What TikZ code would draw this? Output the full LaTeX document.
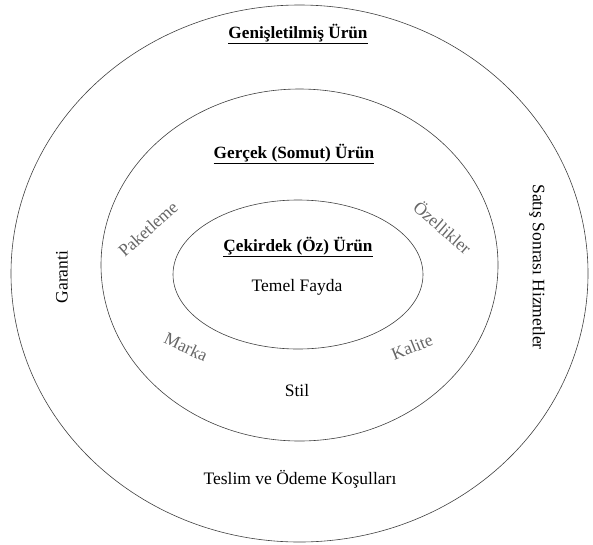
\documentclass[tikz,border=0pt]{standalone}
\usepackage{fontspec}
\setmainfont{Liberation Serif}
\usetikzlibrary{shapes.geometric}

\begin{document}
\begin{tikzpicture}
	[
		x = 1pt, y = -1pt,
		ring/.style = {draw=black!75, line width=0.6pt, ellipse, inner sep=0pt},
		title/.style = {font=\fontsize{17.2}{19}\selectfont\bfseries},
		plain/.style = {font=\fontsize{17.5}{19}\selectfont},
		soft/.style = {plain, text=black!60}]

	\useasboundingbox (0,0) rectangle (593,544);

	\node[ring, minimum width=577pt, minimum height=537pt] (outer) at (299.5,273.5) {};
	\node[ring, minimum width=397pt, minimum height=352pt] (middle) at (299.5,265) {};
	\node[ring, minimum width=250pt, minimum height=149pt] (inner) at (298,274.5) {};

	\node[title] (extended) at (298,34) {\underline{Genişletilmiş Ürün}};
	\node[title] (actual) at (294,154) {\underline{Gerçek (Somut) Ürün}};
	\node[title] (core) at (298,247) {\underline{Çekirdek (Öz) Ürün}};

	\node[plain] (benefit) at (297,287) {Temel Fayda};
	\node[plain] (style) at (297,391) {Stil};
	\node[plain] (delivery) at (300,479) {Teslim ve Ödeme Koşulları};
	\node[plain, rotate=90] (warranty) at (62,277) {Garanti};
	\node[plain, rotate=-90] (service) at (537,267) {Satış Sonrası Hizmetler};

	\node[soft, rotate=42] (packaging) at (148,229) {Paketleme};
	\node[soft, rotate=-41] (features) at (443,227) {Özellikler};
	\node[soft, rotate=-25] (brand) at (186,347) {Marka};
	\node[soft, rotate=22] (quality) at (412,347) {Kalite};
\end{tikzpicture}
\end{document}
